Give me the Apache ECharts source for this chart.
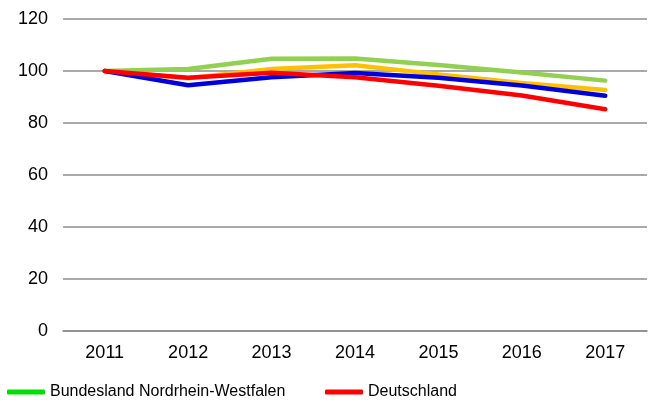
<!DOCTYPE html>
<html>
<head>
<meta charset="utf-8">
<script src="https://cdn.jsdelivr.net/npm/echarts@6/dist/echarts.min.js"></script>
<style>
  html, body { margin: 0; padding: 0; background: #fff; }
  #chart { width: 665px; height: 402px; }
</style>
</head>
<body>
<div id="chart"></div>
<script>
const years = ['2011', '2012', '2013', '2014', '2015', '2016', '2017']
const yTicks = [0, 20, 40, 60, 80, 100, 120]

// Indexwerte (2011 = 100)
const nrw = [100, 100.8, 104.7, 104.8, 102.3, 99.4, 96.3]
const orangeLine = [100, 97.2, 100.8, 102.2, 98.7, 95.4, 92.7]
const blueLine = [100, 94.5, 97.6, 99.2, 97.4, 94.4, 90.5]
const deutschland = [100, 97.4, 99.3, 97.6, 94.3, 90.6, 85.3]

const chart = echarts.init(document.getElementById('chart'))

const lineSeries = (name, data, color, z) => ({
  name: name,
  type: 'line',
  data: data,
  symbol: 'none',
  z: z,
  lineStyle: { color: color, width: 4.5, cap: 'round', join: 'round' },
  itemStyle: { color: color },
})

const legendText = { fontFamily: 'Liberation Sans', fontSize: 16, color: '#000' }

chart.setOption({
  animation: false,
  grid: { left: 63, right: 18, top: 19, bottom: 71 },
  legend: [
    {
      left: 2,
      top: 379,
      itemWidth: 38,
      itemHeight: 5,
      itemGap: 0,
      textStyle: legendText,
      data: [{ name: 'Bundesland Nordrhein-Westfalen', icon: 'roundRect', itemStyle: { color: '#00dd00' } }],
    },
    {
      left: 320,
      top: 379,
      itemWidth: 38,
      itemHeight: 5,
      textStyle: legendText,
      data: [{ name: 'Deutschland', icon: 'roundRect', itemStyle: { color: '#ff0000' } }],
    },
  ],
  xAxis: {
    type: 'category',
    data: years,
    boundaryGap: true,
    axisLine: { lineStyle: { color: '#8c8c8c', width: 1.5 } },
    axisTick: { show: false },
    axisLabel: { fontFamily: 'Liberation Sans', fontSize: 18, color: '#000', margin: 13 },
  },
  yAxis: {
    type: 'value',
    min: yTicks[0],
    max: yTicks[yTicks.length - 1],
    interval: 20,
    axisLine: { show: false },
    axisTick: { show: false },
    axisLabel: { fontFamily: 'Liberation Sans', fontSize: 18, color: '#000', margin: 15 },
    splitLine: { lineStyle: { color: '#8c8c8c', width: 1.5 } },
  },
  series: [
    lineSeries('Bundesland Nordrhein-Westfalen', nrw, '#92d050', 2),
    lineSeries('Reihe 2', orangeLine, '#ffc000', 3),
    lineSeries('Reihe 3', blueLine, '#0000dd', 4),
    lineSeries('Deutschland', deutschland, '#ff0000', 5),
  ],
})
</script>
</body>
</html>
